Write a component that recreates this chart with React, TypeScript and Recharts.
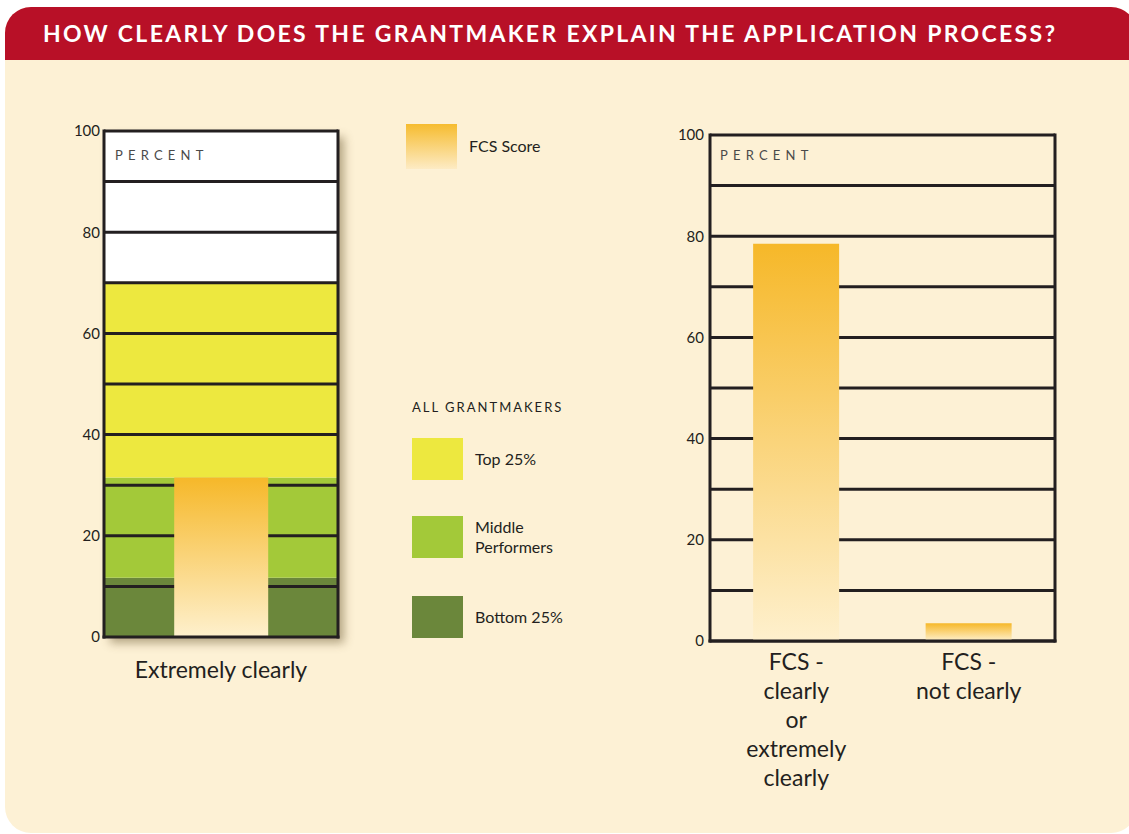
import React from "react";
import {
  Bar,
  ComposedChart,
  CartesianGrid,
  ReferenceArea,
  ReferenceLine,
  XAxis,
  YAxis,
} from "recharts";

// left panel: FCS score against the grantmaker bands
const leftCategories = ["Extremely clearly"];
const leftFcsValues = [31.5];

const bandNames = ["Bottom 25%", "Middle Performers", "Top 25%"];
const bandLows = [0, 11.7, 31.5];
const bandHighs = [11.7, 31.5, 70];

// right panel
const rightCategories = ["FCS - clearly or extremely clearly", "FCS - not clearly"];
const rightValues = [78.5, 3.5];
const rightLabelLines = [
  ["FCS -", "clearly", "or", "extremely", "clearly"],
  ["FCS -", "not clearly"],
];

const yTicks = [0, 10, 20, 30, 40, 50, 60, 70, 80, 90, 100];

const FONT = "Lato, 'Open Sans', sans-serif";
const INK = "#231F20";
const RED = "#B81027";
const CREAM = "#FDF1D5";
const bandColors = ["#6B873B", "#A3C939", "#EDE83F"];

const leftData = leftCategories.map((name, i) => ({ name, value: leftFcsValues[i] }));
const rightData = rightCategories.map((name, i) => ({ name, value: rightValues[i] }));

const tickFmt = (v: number) => (v % 20 === 0 ? String(v) : "");

function FcsGradient({ id }: { id: string }) {
  return (
    <defs>
      <linearGradient id={id} x1="0" y1="0" x2="0" y2="1">
        <stop offset="0%" stopColor="#F6B829" />
        <stop offset="100%" stopColor="#FEF0CD" />
      </linearGradient>
    </defs>
  );
}

function LeftTick(props: any) {
  const { x, y, payload } = props;
  return (
    <text x={x} y={y + 41} textAnchor="middle" fill={INK} fontSize={23} fontFamily={FONT}>
      {payload.value}
    </text>
  );
}

function RightTick(props: any) {
  const { x, y, payload } = props;
  const lines = rightLabelLines[rightCategories.indexOf(payload.value)] || [];
  return (
    <text x={x} y={y + 29} textAnchor="middle" fill={INK} fontSize={23} fontFamily={FONT}>
      {lines.map((l, i) => (
        <tspan key={i} x={x} dy={i === 0 ? 0 : 29}>
          {l}
        </tspan>
      ))}
    </text>
  );
}

const tickStyle = { fill: INK, fontSize: 15, fontFamily: FONT };
const borderLine = { stroke: INK, strokeWidth: 3, strokeLinecap: "square" as const };

function LeftChart() {
  return (
    <ComposedChart
      width={320}
      height={576}
      data={leftData}
      margin={{ top: 20, right: 25, bottom: 0, left: 0 }}
      barCategoryGap="30%"
    >
      <FcsGradient id="fcsLeft" />
      <XAxis
        dataKey="name"
        height={50}
        axisLine={borderLine}
        tickLine={false}
        tickSize={0}
        tickMargin={0}
        tick={<LeftTick />}
      />
      <YAxis
        domain={[0, 100]}
        ticks={yTicks}
        tickFormatter={tickFmt}
        width={60}
        tickLine={false}
        tickSize={0}
        tickMargin={4}
        axisLine={borderLine}
        tick={tickStyle}
      />
      <YAxis
        yAxisId="border"
        orientation="right"
        domain={[0, 100]}
        width={1}
        tick={false}
        tickLine={false}
        axisLine={borderLine}
      />
      {bandNames.map((n, i) => (
        <ReferenceArea
          key={n}
          y1={bandLows[i]}
          y2={bandHighs[i]}
          fill={bandColors[i]}
          fillOpacity={1}
          stroke="none"
          zIndex={100}
        />
      ))}
      {yTicks.slice(1).map((t) => (
        <ReferenceLine key={t} y={t} stroke={INK} strokeWidth={3} zIndex={200} />
      ))}
      <Bar dataKey="value" fill="url(#fcsLeft)" isAnimationActive={false} zIndex={300} />
    </ComposedChart>
  );
}

function RightChart() {
  return (
    <ComposedChart
      width={425}
      height={686}
      data={rightData}
      margin={{ top: 20, right: 19, bottom: 0, left: 0 }}
      barCategoryGap="25%"
    >
      <FcsGradient id="fcsRight" />
      <CartesianGrid vertical={false} stroke={INK} strokeWidth={3} />
      <XAxis
        dataKey="name"
        height={160}
        axisLine={borderLine}
        tickLine={false}
        tickSize={0}
        tickMargin={0}
        interval={0}
        tick={<RightTick />}
      />
      <YAxis
        domain={[0, 100]}
        ticks={yTicks}
        tickFormatter={tickFmt}
        width={60}
        tickLine={false}
        tickSize={0}
        tickMargin={6}
        axisLine={borderLine}
        tick={tickStyle}
      />
      <YAxis
        yAxisId="border"
        orientation="right"
        domain={[0, 100]}
        width={1}
        tick={false}
        tickLine={false}
        axisLine={borderLine}
      />
      <Bar dataKey="value" fill="url(#fcsRight)" isAnimationActive={false} />
    </ComposedChart>
  );
}

const abs = (left: number, top: number, extra: React.CSSProperties = {}): React.CSSProperties => ({
  position: "absolute",
  left,
  top,
  ...extra,
});

export default function App() {
  const legendTops = [596, 516, 438];
  return (
    <div
      style={{
        position: "absolute",
        left: 0,
        top: 0,
        width: 1129,
        height: 834,
        background: "#fff",
        overflow: "hidden",
        fontFamily: FONT,
        color: INK,
      }}
    >
      <div
        style={abs(5, 7, {
          width: 1132,
          height: 826,
          background: CREAM,
          borderRadius: 26,
          overflow: "hidden",
        })}
      >
        <div style={abs(0, 0, { width: "100%", height: 53, background: RED })} />
      </div>
      <svg style={abs(0, 0)} width={1129} height={60}>
        <text
          x={43}
          y={42}
          fill="#fff"
          fontWeight={700}
          fontSize={23}
          fontFamily={FONT}
          textLength={1012}
          lengthAdjust="spacing"
        >
          HOW CLEARLY DOES THE GRANTMAKER EXPLAIN THE APPLICATION PROCESS?
        </text>
      </svg>

      {/* left chart box with shadow */}
      <div
        style={abs(104, 131, {
          width: 234,
          height: 506,
          background: "#fff",
          boxShadow: "6px 6px 9px rgba(90,70,30,0.45)",
        })}
      />
      <div style={abs(44, 111)}>
        <LeftChart />
      </div>
      <div style={abs(650, 115)}>
        <RightChart />
      </div>

      <div style={abs(115, 146, { fontSize: 13, letterSpacing: 5.2, color: "#4a4a4a", lineHeight: "18px" })}>
        PERCENT
      </div>
      <div style={abs(720, 146, { fontSize: 13, letterSpacing: 5.2, color: "#4a4a4a", lineHeight: "18px" })}>
        PERCENT
      </div>

      {/* legend */}
      <div
        style={abs(406, 124, {
          width: 51,
          height: 45,
          background: "linear-gradient(#F6BC2F, #FDEBC4)",
        })}
      />
      <div style={abs(469, 136, { fontSize: 16, lineHeight: "20px" })}>FCS Score</div>
      <div style={abs(412, 398, { fontSize: 13, letterSpacing: 2, lineHeight: "18px" })}>
        ALL GRANTMAKERS
      </div>
      {bandNames.map((n, i) => (
        <React.Fragment key={n}>
          <div style={abs(412, legendTops[i], { width: 51, height: 42, background: bandColors[i] })} />
          <div
            style={abs(475, legendTops[i] + 21, {
              width: 90,
              fontSize: 16,
              lineHeight: "20px",
              transform: "translateY(-50%)",
            })}
          >
            {n}
          </div>
        </React.Fragment>
      ))}
    </div>
  );
}
